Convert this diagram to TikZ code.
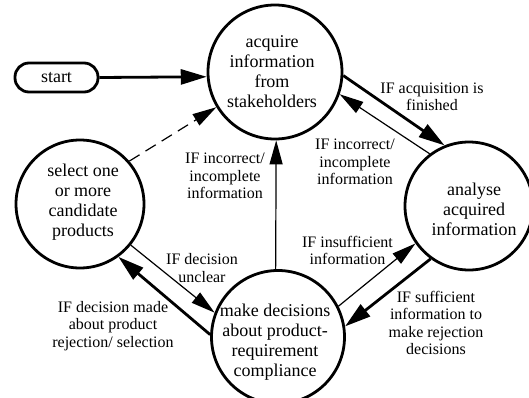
\documentclass[tikz,border=0pt]{standalone}
\usepackage{fontspec}
\setmainfont{Liberation Serif}
\usetikzlibrary{arrows.meta}
\begin{document}
\begin{tikzpicture}[x=1pt,y=-1pt,
  state/.style={circle, draw, line width=2.8pt, inner sep=0pt, minimum size=#1},
  stxt/.style={align=center, font=\fontsize{18}{20}\selectfont, inner sep=0pt},
  lbl/.style={align=center, font=\fontsize{16}{17.5}\selectfont, inner sep=0pt},
  thk/.style={line width=2.8pt, -{Triangle[length=26pt,width=15pt]}},
  thn/.style={line width=1.2pt, -{Triangle[length=24pt,width=13pt]}},
]
\useasboundingbox (0,0) rectangle (529,398);

\node[state=134pt] (acq) at (275,72) {};
\node[state=128pt] (ana) at (469,206) {};
\node[state=128pt] (sel) at (80,204) {};
\node[state=133pt] (mak) at (278,337) {};
\node[draw, line width=2.8pt, rounded corners=14pt, minimum width=83pt, minimum height=29pt, inner sep=0pt, font=\fontsize{18}{20}\selectfont] (start) at (56.5,77.5) {start};

\node[stxt] (acqT) at (272,72) {acquire\\information\\from\\stakeholders};
\node[stxt] (anaT) at (474,209) {analyse\\acquired\\information};
\node[stxt] (selT) at (83,202) {select one\\or more\\candidate\\products};
\node[stxt] (makT) at (275,342) {make decisions\\about product-\\requirement\\compliance};

\draw[thk] (start.east) -- (acq.184);
\draw[thk] (acq.-3) -- (ana.112);
\draw[thn] (ana.127) -- (acq.-19);
\draw[thn, dash pattern=on 12pt off 7pt] (sel.41) -- (acq.211);
\draw[thn] (mak.92) -- (acq.-89);
\draw[thn] (sel.-39) -- (mak.159);
\draw[thk] (mak.178) -- (sel.-54);
\draw[thn] (mak.27) -- (ana.215);
\draw[thk] (ana.234) -- (mak.9);

\node[lbl] (l1) at (432,97) {IF acquisition is\\finished};
\node[lbl] (l2) at (355,162) {IF incorrect/\\incomplete\\information};
\node[lbl] (l3) at (225,176) {IF incorrect/\\incomplete\\information};
\node[lbl] (l4) at (202,268) {IF decision\\unclear};
\node[lbl] (l5) at (113,326) {IF decision made\\about product\\rejection/ selection};
\node[lbl] (l6) at (347.5,250.5) {IF insufficient\\information};
\node[lbl] (l7) at (436,323) {IF sufficient\\information to\\make rejection\\decisions};
\end{tikzpicture}
\end{document}
